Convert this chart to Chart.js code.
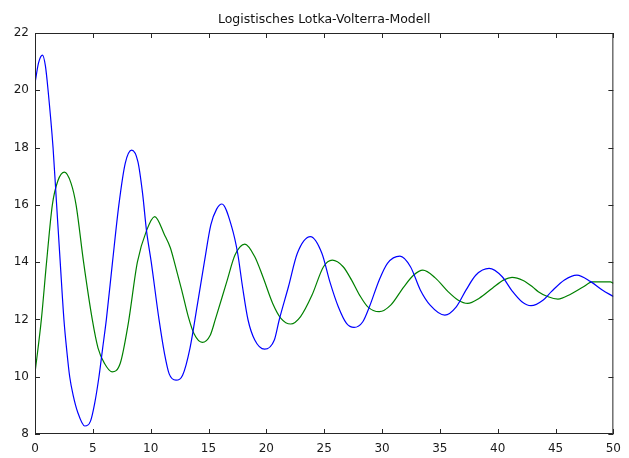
<!DOCTYPE html>
<html>
<head>
<meta charset="utf-8">
<title>Logistisches Lotka-Volterra-Modell</title>
<script src="https://cdn.jsdelivr.net/npm/chart.js@4.4.1/dist/chart.umd.min.js"></script>
<style>
  html, body { margin: 0; padding: 0; background: #ffffff; }
  canvas { display: block; }
</style>
</head>
<body>
<canvas id="lv" width="629" height="458"></canvas>
<script>
// Beute (blau): Zeitpunkte und Populationswerte
const preyTime = [
  0, 0.3, 0.65, 0.9, 1.13, 1.56, 1.87, 2.18, 2.5, 2.75, 3.0, 3.3, 3.7, 4.3, 4.8, 5.15,
  5.53, 5.85, 6.17, 6.7, 7.25, 7.8, 8.36, 8.9, 9.3, 9.64, 10.05, 10.72, 11.2, 11.6, 12.19,
  12.76, 13.4, 14.03, 14.64, 15.2, 15.7, 16.16, 17.0, 17.52, 17.94, 18.42, 19.0,
  19.84, 20.69, 21.11, 21.91, 22.68, 23.81, 24.8, 25.5, 26.22, 26.93, 27.58, 28.34,
  28.91, 29.76, 30.47, 31.55, 32.46, 33.31, 34.16, 35.43, 36.42, 37.27, 38.12,
  39.26, 40.39, 41.24, 42.09, 42.88, 43.94, 44.64, 45.77, 46.85, 48.04, 49.04, 50
];
const preyValues = [
  20.24, 20.95, 21.23, 20.85, 20.0, 18.0, 16.0, 14.0, 12.0, 10.9, 10.0, 9.35, 8.75, 8.28, 8.45, 9.05,
  10.0, 11.0, 12.0, 14.0, 16.0, 17.45, 17.91, 17.5, 16.4, 15.1, 14.0, 12.0, 10.8, 10.1, 9.88,
  10.05, 11.0, 12.5, 14.0, 15.3, 15.85, 16.03, 15.24, 14.31, 13.14, 11.98, 11.28,
  10.96, 11.28, 11.98, 13.14, 14.31, 14.89, 14.31, 13.3, 12.44, 11.86, 11.72, 11.92,
  12.44, 13.38, 13.96, 14.21, 13.84, 13.03, 12.5, 12.15, 12.44, 13.03, 13.55,
  13.78, 13.49, 13.0, 12.62, 12.48, 12.68, 12.97, 13.38, 13.55, 13.32, 13.03, 12.8
];

// Räuber (grün): Zeitpunkte und Populationswerte
const predatorTime = [
  0, 0.55, 1.0, 1.5, 1.98, 2.55, 3.12, 3.55, 4.2, 4.95, 5.45, 6.0, 6.66, 7.37, 8.08,
  8.85, 9.64, 10.35, 11.2, 11.7, 12.05, 12.7, 13.25, 13.75, 14.46, 15.16, 15.59, 16.58,
  17.29, 18.14, 19.0, 19.7, 20.55, 21.26, 22.11, 22.96, 23.95, 24.94, 25.7, 26.64,
  27.36, 28.06, 28.77, 29.76, 30.75, 31.89, 32.74, 33.53, 34.6, 35.71, 36.56, 37.41,
  38.41, 39.54, 40.53, 41.24, 42.2, 43.0, 43.51, 44.36, 45.21, 46.34, 47.34, 48.19,
  49.74, 50
];
const predatorValues = [
  10.13, 12.0, 14.0, 16.0, 16.84, 17.14, 16.75, 16.0, 14.0, 12.0, 11.0, 10.47, 10.17, 10.47, 11.9,
  14.0, 15.1, 15.59, 14.95, 14.5, 14.0, 13.0, 12.1, 11.5, 11.2, 11.46, 12.0, 13.32,
  14.25, 14.63, 14.19, 13.49, 12.56, 12.04, 11.84, 12.1, 12.85, 13.84, 14.07, 13.84,
  13.38, 12.85, 12.44, 12.27, 12.5, 13.14, 13.55, 13.72, 13.45, 12.97, 12.68, 12.56,
  12.74, 13.09, 13.38, 13.47, 13.36, 13.14, 12.97, 12.79, 12.71, 12.89, 13.12, 13.31,
  13.31, 13.26
];

// Achsenbeschriftung
const xTickValues = [0, 5, 10, 15, 20, 25, 30, 35, 40, 45, 50];
const yTickValues = [8, 10, 12, 14, 16, 18, 20, 22];

const titleText = 'Logistisches Lotka-Volterra-Modell';

function toPoints(xs, ys) {
  return xs.map((x, i) => ({ x: x, y: ys[i] }));
}

// Rahmen um die Zeichenfläche und nach innen zeigende Teilstriche auf allen vier Seiten
const boxTicks = {
  id: 'boxTicks',
  afterDatasetsDraw(chart) {
    const { ctx, chartArea: a, scales } = chart;
    const len = 5;
    ctx.save();
    ctx.strokeStyle = '#262626';
    ctx.lineWidth = 1;
    ctx.beginPath();
    ctx.rect(a.left + 0.5, a.top + 0.5, a.right - a.left - 1, a.bottom - a.top - 1);
    scales.x.ticks.forEach(t => {
      const px = Math.round(scales.x.getPixelForValue(t.value)) + 0.5;
      ctx.moveTo(px, a.bottom);
      ctx.lineTo(px, a.bottom - len);
      ctx.moveTo(px, a.top);
      ctx.lineTo(px, a.top + len);
    });
    scales.y.ticks.forEach(t => {
      const py = Math.round(scales.y.getPixelForValue(t.value)) + 0.5;
      ctx.moveTo(a.left, py);
      ctx.lineTo(a.left + len, py);
      ctx.moveTo(a.right, py);
      ctx.lineTo(a.right - len, py);
    });
    ctx.stroke();
    ctx.restore();
  }
};

const whiteBackground = {
  id: 'whiteBackground',
  beforeDraw(chart) {
    const ctx = chart.ctx;
    ctx.save();
    ctx.fillStyle = '#ffffff';
    ctx.fillRect(0, 0, chart.width, chart.height);
    ctx.restore();
  }
};

const tickFont = { family: 'DejaVu Sans', size: 12 };

new Chart(document.getElementById('lv'), {
  type: 'scatter',
  data: {
    datasets: [
      {
        label: 'Beute',
        data: toPoints(preyTime, preyValues),
        showLine: true,
        borderColor: '#0000ff',
        borderWidth: 1.2,
        pointRadius: 0,
        cubicInterpolationMode: 'monotone',
        fill: false
      },
      {
        label: 'Räuber',
        data: toPoints(predatorTime, predatorValues),
        showLine: true,
        borderColor: '#008000',
        borderWidth: 1.2,
        pointRadius: 0,
        cubicInterpolationMode: 'monotone',
        fill: false
      }
    ]
  },
  options: {
    responsive: false,
    animation: false,
    events: [],
    layout: { padding: { left: 0, right: 6, top: 0, bottom: 0 } },
    plugins: {
      legend: { display: false },
      tooltip: { enabled: false },
      title: {
        display: true,
        fullSize: false,
        text: titleText,
        color: '#111111',
        font: { family: 'DejaVu Sans', size: 12.5, weight: 'normal' },
        padding: { top: 12, bottom: 6 }
      }
    },
    scales: {
      x: {
        type: 'linear',
        min: 0,
        max: 50,
        afterBuildTicks(scale) { scale.ticks = xTickValues.map(v => ({ value: v })); },
        afterFit(scale) { scale.height = 24; },
        grid: { display: false, drawTicks: false },
        border: { display: false },
        ticks: { color: '#1a1a1a', font: tickFont, padding: 8, maxRotation: 0, autoSkip: false }
      },
      y: {
        type: 'linear',
        min: 8,
        max: 22,
        afterBuildTicks(scale) { scale.ticks = yTickValues.map(v => ({ value: v })); },
        afterFit(scale) { scale.width = 35; },
        grid: { display: false, drawTicks: false },
        border: { display: false },
        ticks: { color: '#1a1a1a', font: tickFont, padding: 6, autoSkip: false }
      }
    }
  },
  plugins: [whiteBackground, boxTicks]
});
</script>
</body>
</html>
